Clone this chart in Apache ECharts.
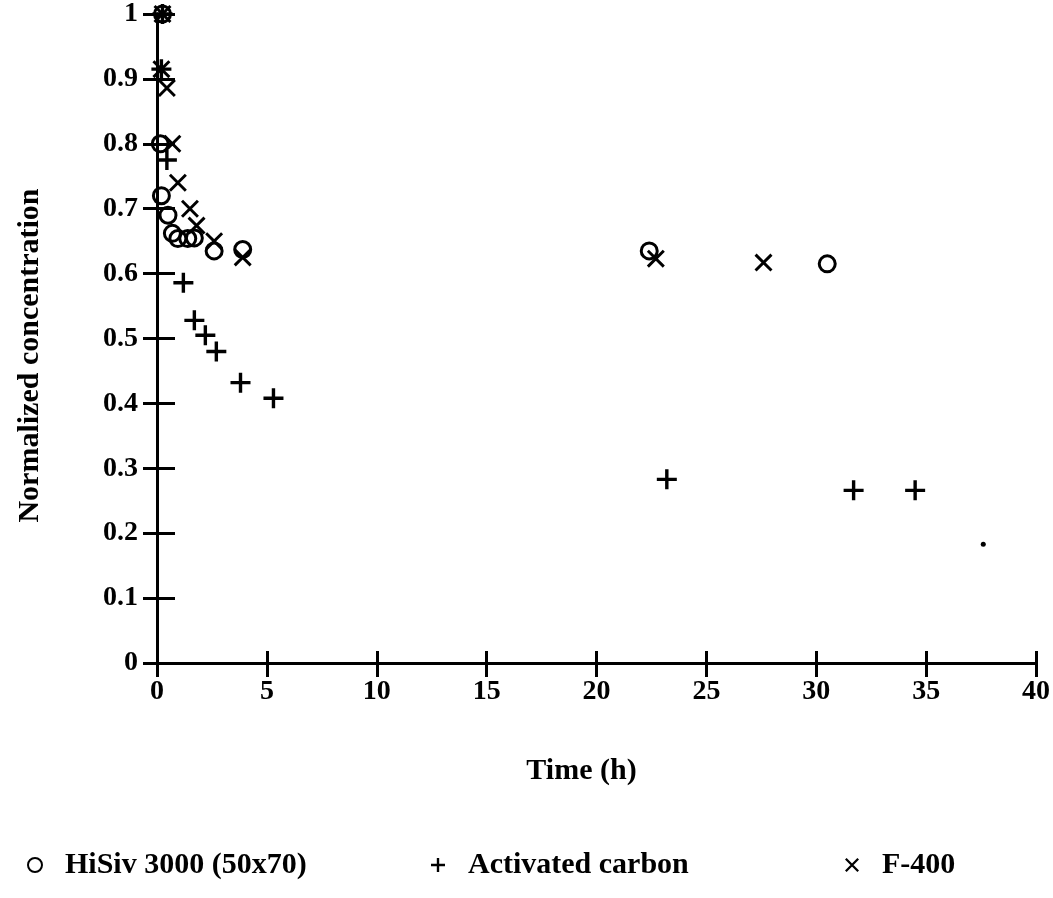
<!DOCTYPE html>
<html><head><meta charset="utf-8">
<script src="https://cdn.jsdelivr.net/npm/echarts@6/dist/echarts.min.js"></script>
<style>html,body{margin:0;padding:0;background:#fff}#c{width:1053px;height:898px}</style>
</head><body><div id="c"></div>
<script>
// Data: [time (h), normalized concentration]
var hisivData = [[0.25,1.0],[0.15,0.80],[0.2,0.72],[0.5,0.69],[0.7,0.662],[0.95,0.654],[1.4,0.654],[1.7,0.655],[2.6,0.635],[3.9,0.637],[22.4,0.635],[30.5,0.615]];
var carbonData = [[0.25,1.0],[0.2,0.915],[0.45,0.775],[1.2,0.586],[1.7,0.528],[2.2,0.505],[2.7,0.48],[3.8,0.432],[5.3,0.408],[23.2,0.283],[31.7,0.266],[34.5,0.266]];
var f400Data = [[0.25,1.0],[0.2,0.915],[0.45,0.886],[0.7,0.80],[0.95,0.74],[1.5,0.70],[1.8,0.674],[2.6,0.65],[3.9,0.625],[22.7,0.623],[27.6,0.617]];
var strayDot = [[37.6,0.183]];
var seriesNames = ['HiSiv 3000 (50x70)','Activated carbon','F-400'];
var xTicks = {min:0, max:40, interval:5};
var yTicks = {min:0, max:1, interval:0.1};

var FONT = '"Liberation Serif","Times New Roman",serif';
var plusPath = 'path://M0,8.3H20V11.7H0Z M8.3,0H11.7V20H8.3Z';
var crossPath = 'path://M0,2.3L2.3,0L20,17.7L17.7,20Z M17.7,0L20,2.3L2.3,20L0,17.7Z';

var chart = echarts.init(document.getElementById('c'));
var lblStyle = {fontFamily:FONT, fontWeight:'bold', fontSize:28, color:'#000'};
function legendFor(name, left, icon){
  return {data:[{name:name, icon:icon}], left:left, top:845, itemWidth:14, itemHeight:14,
    textStyle:{fontFamily:FONT, fontWeight:'bold', fontSize:30, color:'#000', padding:[0,0,0,18]}};
}
chart.setOption({
  backgroundColor:'#fff',
  animation:false,
  grid:{left:157, right:16, top:13, bottom:235, containLabel:false},
  xAxis:[
    {type:'value', min:xTicks.min, max:xTicks.max, interval:xTicks.interval, position:'bottom',
     splitLine:{show:false},
     axisLine:{show:true, onZero:false, lineStyle:{color:'#000', width:3}},
     axisTick:{show:true, inside:false, length:14, lineStyle:{color:'#000', width:3}},
     axisLabel:Object.assign({margin:15}, lblStyle),
     name:'Time (h)', nameLocation:'middle', nameGap:93,
     nameTextStyle:{fontFamily:FONT, fontWeight:'bold', fontSize:30, color:'#000', padding:[0,30,0,0]}},
    {type:'value', min:xTicks.min, max:xTicks.max, interval:xTicks.interval, position:'bottom',
     splitLine:{show:false}, axisLine:{show:false},
     axisTick:{show:true, inside:true, length:12, lineStyle:{color:'#000', width:3}},
     axisLabel:{show:false}}
  ],
  yAxis:[
    {type:'value', min:yTicks.min, max:yTicks.max, interval:yTicks.interval, position:'left',
     splitLine:{show:false},
     axisLine:{show:true, onZero:false, lineStyle:{color:'#000', width:3}},
     axisTick:{show:true, inside:false, length:14, lineStyle:{color:'#000', width:3}},
     axisLabel:Object.assign({margin:19}, lblStyle),
     name:'Normalized concentration', nameLocation:'middle', nameGap:112,
     nameTextStyle:{fontFamily:FONT, fontWeight:'bold', fontSize:30, color:'#000', padding:[0,34,0,0]}},
    {type:'value', min:yTicks.min, max:yTicks.max, interval:yTicks.interval, position:'left',
     splitLine:{show:false}, axisLine:{show:false},
     axisTick:{show:true, inside:true, length:18, lineStyle:{color:'#000', width:3}},
     axisLabel:{show:false}}
  ],
  legend:[
    legendFor(seriesNames[0], 22, 'circle'),
    legendFor(seriesNames[1], 426, plusPath),
    legendFor(seriesNames[2], 840, crossPath)
  ],
  series:[
    {name:seriesNames[0], type:'scatter', data:hisivData, symbol:'circle', symbolSize:16,
     itemStyle:{color:'rgba(0,0,0,0)', borderColor:'#000', borderWidth:3, opacity:1}, z:3},
    {name:seriesNames[1], type:'scatter', data:carbonData, symbol:plusPath, symbolSize:20,
     itemStyle:{color:'#000', opacity:1}, z:4},
    {name:seriesNames[2], type:'scatter', data:f400Data, symbol:crossPath, symbolSize:18,
     itemStyle:{color:'#000', opacity:1}, z:5},
    {name:'dot', type:'scatter', data:strayDot, symbol:'circle', symbolSize:5,
     itemStyle:{color:'#000', opacity:1}, z:2}
  ]
});
</script></body></html>
